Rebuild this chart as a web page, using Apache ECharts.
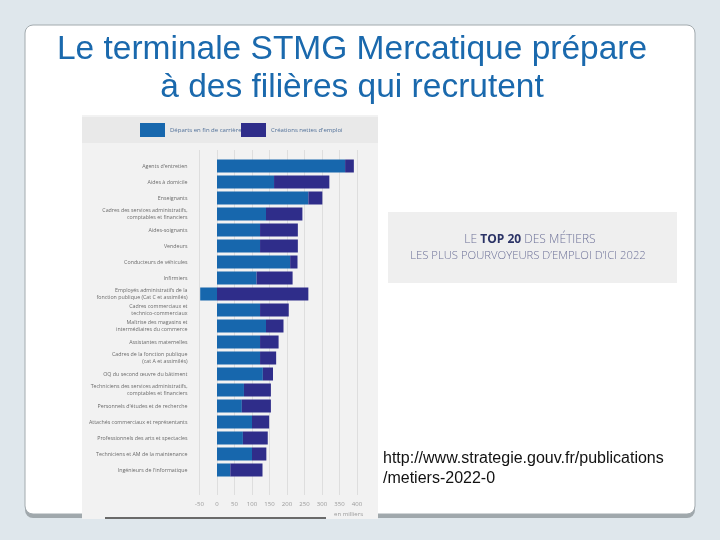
<!DOCTYPE html>
<html>
<head>
<meta charset="utf-8">
<script src="https://cdn.jsdelivr.net/npm/echarts@6/dist/echarts.min.js"></script>
<style>html,body{margin:0;padding:0;background:#dfe7ec;}#c{width:720px;height:540px;}</style>
</head>
<body>
<div id="c"></div>
<script>
const categories = [
  "Agents d'entretien",
  "Aides à domicile",
  "Enseignants",
  "Cadres des services administratifs,\ncomptables et financiers",
  "Aides-soignants",
  "Vendeurs",
  "Conducteurs de véhicules",
  "Infirmiers",
  "Employés administratifs de la\nfonction publique (Cat C et assimilés)",
  "Cadres commerciaux et\ntechnico-commerciaux",
  "Maîtrise des magasins et\nintermédiaires du commerce",
  "Assistantes maternelles",
  "Cadres de la fonction publique\n(cat A et assimilés)",
  "OQ du second œuvre du bâtiment",
  "Techniciens des services administratifs,\ncomptables et financiers",
  "Personnels d'études et de recherche",
  "Attachés commerciaux et représentants",
  "Professionnels des arts et spectacles",
  "Techniciens et AM de la maintenance",
  "Ingénieurs de l'informatique"
];
const departures = [366, 163, 261, 140, 123, 123, 209, 113, -48, 123, 140, 123, 123, 131, 77, 71, 100, 74, 100, 38];
const creations  = [25, 158, 40, 104, 108, 108, 21, 103, 261, 82, 50, 53, 46, 29, 77, 83, 49, 71, 41, 92];
const seriesNames = ["Départs en fin de carrière", "Créations nettes d'emploi"];
const xMin = -50, xMax = 400, xStep = 50;

const C1 = '#1767ad', C2 = '#2f2d8a';
const chart = echarts.init(document.getElementById('c'));
chart.setOption({
  backgroundColor: '#dfe7ec',
  animation: false,
  graphic: [
    {type:'rect', z:-20, shape:{x:25,y:27,width:670,height:491,r:8}, style:{fill:'#a0a8ac'}},
    {type:'rect', z:-19, shape:{x:25,y:25,width:670,height:489,r:8}, style:{fill:'#ffffff', stroke:'#a2aaae', lineWidth:1}},
    {type:'rect', z:-18, shape:{x:82,y:115,width:296,height:404}, style:{fill:'#f2f2f2'}},
    {type:'rect', z:-17, shape:{x:82,y:117,width:296,height:26}, style:{fill:'#e9e9e9'}},
    {type:'rect', z:-17, shape:{x:105,y:517,width:221,height:2}, style:{fill:'#6a6a6a'}},
    {type:'rect', z:-18, shape:{x:388,y:212,width:289,height:71}, style:{fill:'#efefef'}},
    {type:'text', z:5, style:{x:352,y:50,text:'Le terminale STMG Mercatique prépare', font:'33.5px "Liberation Sans", Arial, sans-serif', fill:'#1a69ad', align:'center', verticalAlign:'middle'}},
    {type:'text', z:5, style:{x:352,y:88,text:'à des filières qui recrutent', font:'33.5px "Liberation Sans", Arial, sans-serif', fill:'#1a69ad', align:'center', verticalAlign:'middle'}},
    {type:'text', z:5, style:{x:530,y:240,align:'center',verticalAlign:'middle',
      text:'{a|LE }{b|TOP 20}{a| DES MÉTIERS}',
      rich:{a:{fontFamily:'"Open Sans"',fontWeight:300,fontSize:12,fill:'#6d7198'},b:{fontFamily:'"Open Sans"',fontWeight:'bold',fontSize:12,fill:'#2b3366'}}}},
    {type:'text', z:5, style:{x:528,y:256,align:'center',verticalAlign:'middle',
      text:'LES PLUS POURVOYEURS D\u2019EMPLOI D\u2019ICI 2022', font:'300 11.3px "Open Sans"', fill:'#6d7198'}},
    {type:'text', z:5, style:{x:383,y:459,text:'http://www.strategie.gouv.fr/publications', font:'16px "Liberation Sans", Arial, sans-serif', fill:'#111', verticalAlign:'middle'}},
    {type:'text', z:5, style:{x:383,y:479,text:'/metiers-2022-0', font:'16px "Liberation Sans", Arial, sans-serif', fill:'#111', verticalAlign:'middle'}},
    {type:'text', z:5, style:{x:363,y:514,text:'en milliers', font:'6px "Open Sans"', fill:'#999', align:'right', verticalAlign:'middle'}}
  ],
  legend: [
    {data:[seriesNames[0]], left:135, top:118, itemWidth:25, itemHeight:14, icon:'rect', itemGap:4,
     textStyle:{fontSize:6, color:'#4f6f98', fontFamily:'"Open Sans"'}},
    {data:[seriesNames[1]], left:236, top:118, itemWidth:25, itemHeight:14, icon:'rect', itemGap:4,
     textStyle:{fontSize:6, color:'#4f6f98', fontFamily:'"Open Sans"'}}
  ],
  grid: [
    {left:199.5, right:363, top:158, height:320, containLabel:false},
    {left:199.5, right:363, top:150, height:345, containLabel:false}
  ],
  xAxis: [
    {type:'value', gridIndex:0, min:xMin, max:xMax, interval:xStep, show:false},
    {type:'value', gridIndex:1, min:xMin, max:xMax, interval:xStep,
     axisLine:{show:false}, axisTick:{show:false},
     splitLine:{show:true, lineStyle:{color:'#dedede', width:1}},
     axisLabel:{fontSize:6, color:'#9a9a9a', margin:6, fontFamily:'"Open Sans"'}}
  ],
  yAxis: [
    {type:'category', gridIndex:0, data:categories, inverse:true,
     axisLine:{show:false}, axisTick:{show:false}, splitLine:{show:false},
     axisLabel:{fontSize:5.3, lineHeight:7, color:'#6b6b6b', margin:12, fontFamily:'"Open Sans"', interval:0}},
    {type:'value', gridIndex:1, show:false, splitLine:{show:false}}
  ],
  series: [
    {name:seriesNames[0], type:'bar', stack:'a', xAxisIndex:0, yAxisIndex:0, data:departures, barWidth:13, itemStyle:{color:C1}},
    {name:seriesNames[1], type:'bar', stack:'a', xAxisIndex:0, yAxisIndex:0, data:creations, barWidth:13, itemStyle:{color:C2}}
  ]
});
</script>
</body>
</html>
